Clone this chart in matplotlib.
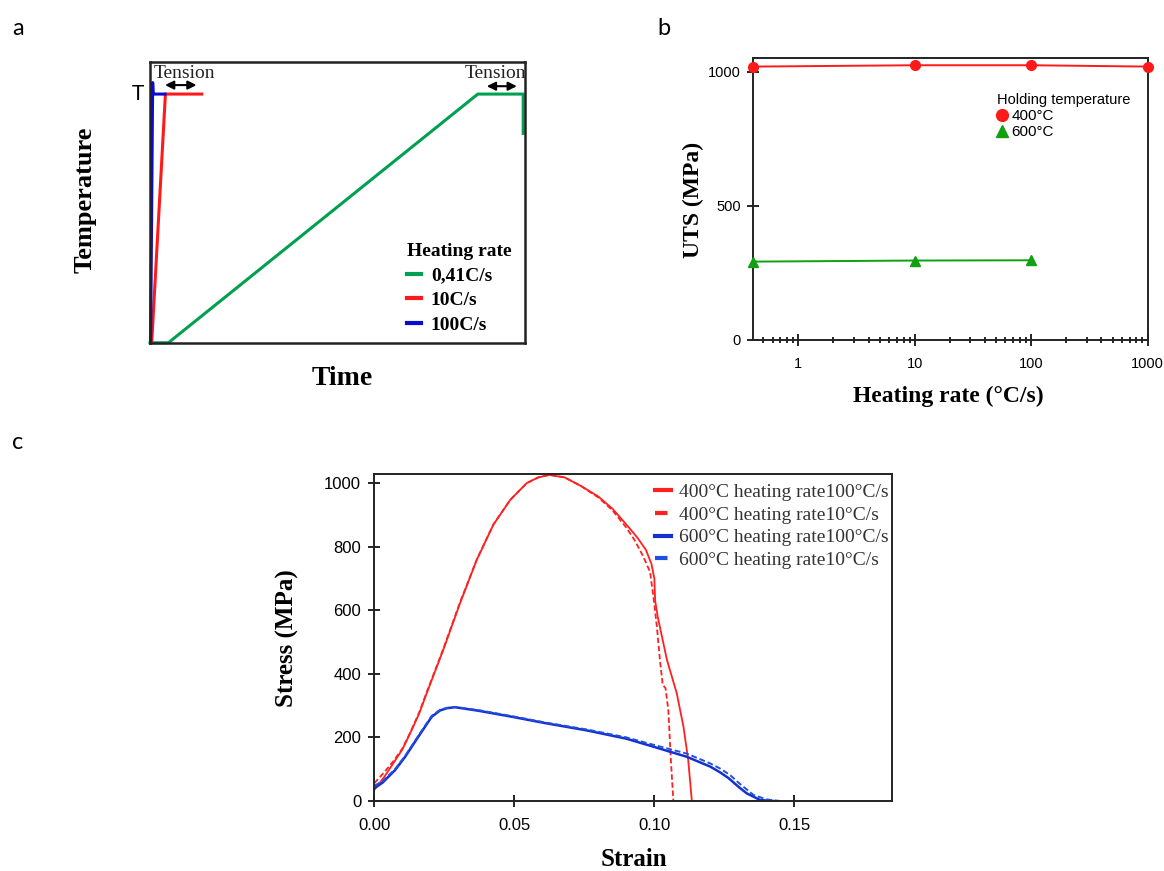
import numpy as np
import matplotlib
matplotlib.use("Agg")
import matplotlib.pyplot as plt
from matplotlib.lines import Line2D
from matplotlib.ticker import FixedLocator, FixedFormatter, LogLocator, NullFormatter, FormatStrFormatter

# panel a - heating schedule sketch (time in arbitrary units 0..100, T normalised)
time_041 = [0, 4.9, 87.4, 99.5, 99.5]
temp_041 = [0, 0, 0.885, 0.885, 0.745]
time_10 = [0.45, 4.1, 13.8]
temp_10 = [0, 0.885, 0.885]
time_100 = [0.15, 0.7, 0.85, 1.3, 4.0]
temp_100 = [0, 0.926, 0.885, 0.885, 0.885]
rate_labels_a = ["0,41C/s", "10C/s", "100C/s"]

# panel b - UTS vs heating rate
rate_400 = [0.41, 10, 100, 1000]
uts_400 = [1019, 1024, 1024, 1019]
rate_600 = [0.41, 10, 100]
uts_600 = [292, 296, 297]

# panel c - stress strain curves
strain_400_100 = [0.0, 0.0035, 0.0068, 0.0100, 0.0128, 0.0160, 0.0187, 0.0246, 0.0306, 0.0366, 0.0425,
                  0.0485, 0.0544, 0.0585, 0.0625, 0.0680, 0.0740, 0.0800, 0.0850, 0.0900, 0.0940, 0.0970,
                  0.0990, 0.1000, 0.1003, 0.1012, 0.1045, 0.1080, 0.1104, 0.1121, 0.1134]
stress_400_100 = [35, 75, 119, 162, 213, 275, 339, 475, 622, 759, 869,
                  947, 1000, 1018, 1026, 1018, 990, 958, 920, 870, 828, 790,
                  745, 700, 630, 580, 444, 339, 234, 129, 0]
strain_400_10 = [0.0, 0.0035, 0.0068, 0.0100, 0.0128, 0.0160, 0.0187, 0.0246, 0.0306, 0.0366, 0.0425,
                 0.0485, 0.0544, 0.0585, 0.0625, 0.0680, 0.0740, 0.0800, 0.0850, 0.0900, 0.0930, 0.0960,
                 0.0985, 0.0998, 0.1009, 0.1020, 0.1030, 0.1040, 0.1050, 0.1059, 0.1068]
stress_400_10 = [56, 90, 125, 165, 215, 278, 342, 478, 625, 760, 870,
                 947, 1000, 1018, 1026, 1018, 990, 955, 915, 860, 820, 770,
                 720, 633, 549, 444, 365, 355, 286, 129, 0]
strain_600_100 = [0.0, 0.0030, 0.0050, 0.0074, 0.0110, 0.0157, 0.0205, 0.0235, 0.0260, 0.0288, 0.0371,
                  0.0491, 0.0610, 0.0759, 0.0900, 0.0996, 0.1116, 0.1200, 0.1235, 0.1265, 0.1300,
                  0.1330, 0.1378, 0.1425]
stress_600_100 = [40, 58, 76, 97, 139, 202, 265, 285, 292, 295, 284,
                  265, 245, 222, 196, 171, 139, 108, 90, 72, 45,
                  24, 3, 0]
strain_600_10 = [0.0, 0.0030, 0.0050, 0.0074, 0.0110, 0.0157, 0.0205, 0.0235, 0.0260, 0.0288, 0.0371,
                 0.0491, 0.0610, 0.0759, 0.0900, 0.0996, 0.1116, 0.1200, 0.1235, 0.1270, 0.1300,
                 0.1354, 0.1400, 0.1449]
stress_600_10 = [48, 62, 80, 100, 142, 205, 268, 287, 293, 296, 286,
                 267, 247, 225, 200, 177, 149, 118, 102, 82, 58,
                 19, 5, 0]
curve_labels = ["400°C heating rate100°C/s", "400°C heating rate10°C/s",
                "600°C heating rate100°C/s", "600°C heating rate10°C/s"]

SERIF = ["Liberation Serif", "DejaVu Serif"]
SANS = ["Liberation Sans", "DejaVu Sans"]
LABEL_SANS = ["Lato", "DejaVu Sans"]

plt.rcParams['font.family'] = SANS
plt.rcParams['axes.linewidth'] = 1.4
plt.rcParams['axes.edgecolor'] = '#222222'

fig = plt.figure(figsize=(11.64, 8.71), dpi=100)

# ---------- a ----------
axa = fig.add_axes([0.1289, 0.6065, 0.3222, 0.3226])
axa.plot(time_041, temp_041, color='#00a050', lw=2.2, clip_on=False, label=rate_labels_a[0])
axa.plot(time_10, temp_10, color='#ff1a1a', lw=2.2, clip_on=False, label=rate_labels_a[1])
axa.plot(time_100, temp_100, color='#0a0ad0', lw=2.2, clip_on=False, label=rate_labels_a[2])
axa.set_xlim(0, 100)
axa.set_ylim(0, 1)
axa.set_xticks([])
axa.set_yticks([])
for sp in axa.spines.values():
    sp.set_linewidth(1.8)
axa.text(-3.3, 0.885, "T", ha='center', va='center', fontsize=15, family=LABEL_SANS)
axa.text(9.1, 0.959, "Tension", ha='center', va='center', fontsize=14, family=SERIF, color='#222222')
axa.text(92.1, 0.959, "Tension", ha='center', va='center', fontsize=14, family=SERIF, color='#222222')
for x0, x1, yy in [(4.0, 12.4, 0.917), (89.8, 97.8, 0.913)]:
    axa.annotate("", xy=(x1, yy), xytext=(x0, yy),
                 arrowprops=dict(arrowstyle='<|-|>,head_length=0.5,head_width=0.25', color='black', lw=1.5,
                                 shrinkA=0, shrinkB=0))
leg = axa.legend(loc='upper left', bbox_to_anchor=(0.684, 0.356), frameon=False, title="Heating rate",
                 prop=dict(family=SERIF, weight='bold', size=14), handlelength=0.75, handletextpad=0.5,
                 labelspacing=0.36, borderpad=0, borderaxespad=0)
leg.get_title().set_fontproperties(dict(family=SERIF, weight='bold', size=14))
leg._legend_box.align = "left"
for ln in leg.get_lines():
    ln.set_linewidth(3)
axa.set_xlabel("Time", family=SERIF, weight='bold', fontsize=20, va='center')
axa.xaxis.set_label_coords(0.513, -0.126)
axa.set_ylabel("Temperature", family=SERIF, weight='bold', fontsize=19, va='center')
axa.yaxis.set_label_coords(-0.173, 0.508)

# ---------- b ----------
axb = fig.add_axes([0.6472, 0.6097, 0.3388, 0.3234])
axb.plot(rate_400, uts_400, color='#ff1a1a', lw=1.4, marker='o', ms=7, clip_on=False, zorder=5)
axb.plot(rate_600, uts_600, color='#10a010', lw=1.4, marker='^', ms=7.5, clip_on=False, zorder=5)
axb.set_xscale('log')
axb.set_xlim(0.41, 1000)
axb.set_ylim(0, 1050)
axb.xaxis.set_major_locator(FixedLocator([1, 10, 100, 1000]))
axb.xaxis.set_major_formatter(FixedFormatter(["1", "10", "100", "1000"]))
axb.xaxis.set_minor_locator(LogLocator(base=10, subs=np.arange(2, 10)))
axb.xaxis.set_minor_formatter(NullFormatter())
axb.set_yticks([0, 500, 1000])
axb.tick_params(axis='both', which='major', direction='inout', length=8, width=1.2, labelsize=10.5, pad=5)
axb.tick_params(axis='x', which='minor', direction='inout', length=5, width=1.2)
axb.tick_params(axis='x', which='major', pad=8)
handles_b = [Line2D([], [], color='#ff1a1a', marker='o', ls='none', ms=8.5),
             Line2D([], [], color='#10a010', marker='^', ls='none', ms=9)]
legb = axb.legend(handles_b, ["400°C", "600°C"], loc='upper left', bbox_to_anchor=(0.617, 0.875),
                  frameon=False, title="Holding temperature", fontsize=11, title_fontsize=10.5,
                  handlelength=0.7, handletextpad=0.25, labelspacing=0.12, borderpad=0, borderaxespad=0)
legb._legend_box.align = "left"
axb.set_xlabel("Heating rate (°C/s)", family=SERIF, weight='bold', fontsize=17, va='center')
axb.xaxis.set_label_coords(0.494, -0.202)
axb.set_ylabel("UTS (MPa)", family=SERIF, weight='bold', fontsize=17, va='center')
axb.yaxis.set_label_coords(-0.153, 0.497)

# ---------- c ----------
axc = fig.add_axes([0.3216, 0.0804, 0.445, 0.3751])
axc.plot(strain_400_100, stress_400_100, color='#ff2020', lw=1.3, label=curve_labels[0])
axc.plot(strain_400_10, stress_400_10, color='#ff2020', lw=1.3, ls=(0, (3, 1.5)), label=curve_labels[1])
axc.plot(strain_600_100, stress_600_100, color='#1530d0', lw=1.8, label=curve_labels[2])
axc.plot(strain_600_10, stress_600_10, color='#2050e0', lw=1.4, ls=(0, (3, 1.5)), label=curve_labels[3])
axc.set_xlim(0, 0.185)
axc.set_ylim(0, 1028)
axc.set_xticks([0, 0.05, 0.10, 0.15])
axc.xaxis.set_major_formatter(FormatStrFormatter('%.2f'))
axc.set_yticks([0, 200, 400, 600, 800, 1000])
axc.tick_params(axis='both', direction='inout', length=9, width=1.2, labelsize=12, pad=5)
axc.tick_params(axis='x', pad=8)
legc = axc.legend(loc='upper left', bbox_to_anchor=(0.542, 0.972), frameon=False,
                  prop=dict(family=SERIF, size=14), handlelength=0.8, handletextpad=0.45,
                  labelspacing=0.26, borderpad=0, borderaxespad=0)
for t in legc.get_texts():
    t.set_color('#333333')
for ln in legc.get_lines():
    ln.set_linewidth(3)
axc.set_xlabel("Strain", family=SERIF, weight='bold', fontsize=18, va='center')
axc.xaxis.set_label_coords(0.501, -0.178)
axc.set_ylabel("Stress (MPa)", family=SERIF, weight='bold', fontsize=18, va='center')
axc.yaxis.set_label_coords(-0.1676, 0.498)

# panel letters
fig.text(12 / 1164, 1 - 35 / 871, "a", fontsize=17, family=LABEL_SANS, va='baseline')
fig.text(657 / 1164, 1 - 35 / 871, "b", fontsize=17, family=LABEL_SANS, va='baseline')
fig.text(12 / 1164, 1 - 449 / 871, "c", fontsize=17, family=LABEL_SANS, va='baseline')

fig.savefig("out.png", dpi=100)
